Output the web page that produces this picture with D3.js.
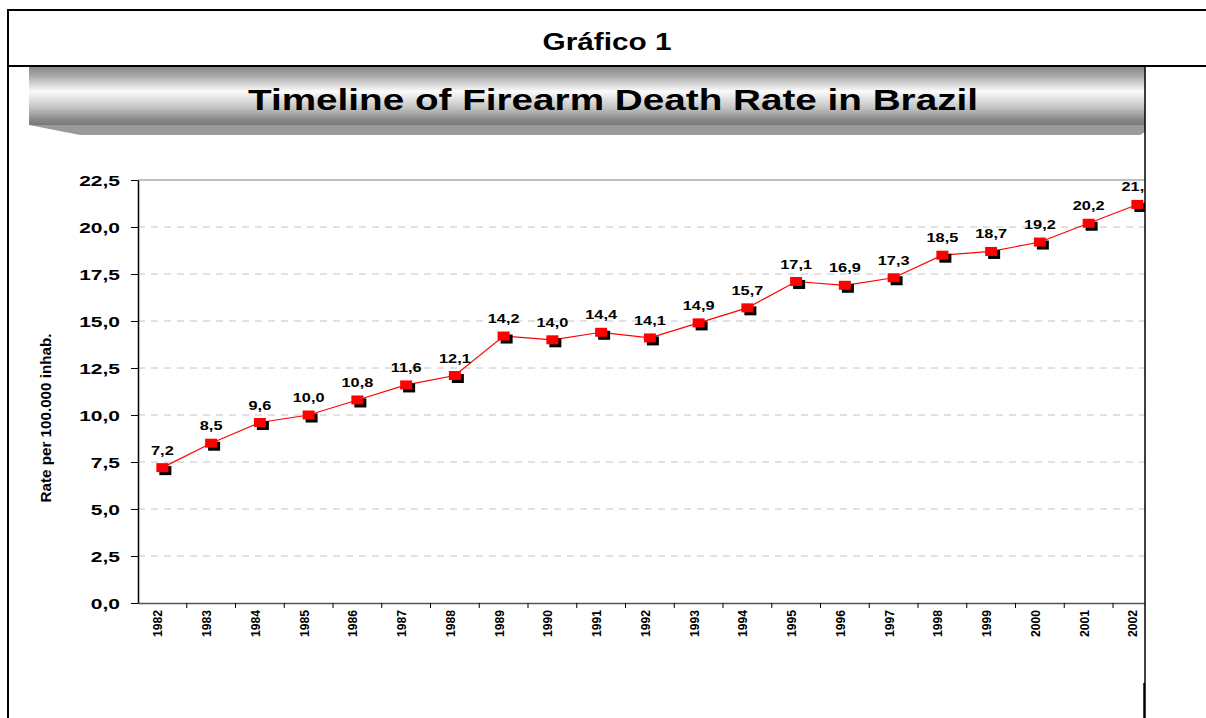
<!DOCTYPE html>
<html>
<head>
<meta charset="utf-8">
<script src="https://cdn.jsdelivr.net/npm/d3@7"></script>
<style>
  body { margin: 0; background: #fff; }
  svg { display: block; font-family: "Liberation Sans", Arial, sans-serif; }
</style>
</head>
<body>
<div id="chart"></div>
<script>
// data
var years = ["1982","1983","1984","1985","1986","1987","1988","1989","1990","1991","1992",
             "1993","1994","1995","1996","1997","1998","1999","2000","2001","2002"];
var rates = [7.2, 8.5, 9.6, 10.0, 10.8, 11.6, 12.1, 14.2, 14.0, 14.4, 14.1,
             14.9, 15.7, 17.1, 16.9, 17.3, 18.5, 18.7, 19.2, 20.2, 21.2];
var yTicks = [0, 2.5, 5, 7.5, 10, 12.5, 15, 17.5, 20, 22.5];

var W = 1206, H = 718;
var fmt = function(v) { return d3.format(".1f")(v).replace(".", ","); };

var svg = d3.select("#chart").append("svg")
    .attr("width", W)
    .attr("height", H);

// frame lines
svg.append("line").attr("x1", 8).attr("x2", W).attr("y1", 10).attr("y2", 10)
    .attr("stroke", "#000").attr("stroke-width", 2);
svg.append("line").attr("x1", 8).attr("x2", W).attr("y1", 66).attr("y2", 66)
    .attr("stroke", "#000").attr("stroke-width", 2);
svg.append("line").attr("x1", 8).attr("x2", 8).attr("y1", 9).attr("y2", H)
    .attr("stroke", "#000").attr("stroke-width", 2);

svg.append("text")
    .attr("x", 607).attr("y", 50)
    .attr("text-anchor", "middle")
    .attr("textLength", 129)
    .attr("lengthAdjust", "spacingAndGlyphs")
    .style("font-size", "24px").style("font-weight", "bold")
    .text("Gráfico 1");

// title banner
var defs = svg.append("defs");
var grad = defs.append("linearGradient").attr("id", "banner")
    .attr("x1", 0).attr("x2", 0).attr("y1", 0).attr("y2", 1);
[[0, "#888"], [0.15, "#a8a8a8"], [0.42, "#fbfbfb"], [0.7, "#c4c4c4"], [0.9, "#8a8a8a"], [1, "#787878"]]
  .forEach(function(s) { grad.append("stop").attr("offset", s[0]).attr("stop-color", s[1]); });

svg.append("polygon")
    .attr("points", "29,125 1145,125 1145,132 1140,135 80,135")
    .attr("fill", "#9a9a9a");
svg.append("rect")
    .attr("x", 29).attr("y", 67).attr("width", 1116).attr("height", 58)
    .attr("fill", "url(#banner)");
svg.append("text")
    .attr("x", 613).attr("y", 110)
    .attr("text-anchor", "middle")
    .attr("textLength", 730)
    .attr("lengthAdjust", "spacingAndGlyphs")
    .style("font-size", "29px").style("font-weight", "bold")
    .text("Timeline of Firearm Death Rate in Brazil");

// plot
var plotLeft = 138, plotTop = 180, plotBottom = 603, clipX = 1145;

var x = d3.scaleBand()
    .domain(years)
    .range([plotLeft, plotLeft + 21 * 48.75]);

var y = d3.scaleLinear()
    .domain([0, 22.5])
    .range([plotBottom, plotTop]);

defs.append("clipPath").attr("id", "plotclip")
  .append("rect").attr("x", 0).attr("y", 0).attr("width", clipX).attr("height", H);

var plot = svg.append("g").attr("clip-path", "url(#plotclip)");

// gridlines
plot.selectAll(".grid")
    .data(yTicks.filter(function(d) { return d > 0 && d < 22.5; }))
    .enter().append("line")
      .attr("x1", plotLeft).attr("x2", clipX)
      .attr("y1", function(d) { return y(d); })
      .attr("y2", function(d) { return y(d); })
      .attr("stroke", "#c4c4c4")
      .attr("stroke-dasharray", "7,6");
plot.append("line")
    .attr("x1", plotLeft).attr("x2", clipX)
    .attr("y1", y(22.5)).attr("y2", y(22.5))
    .attr("stroke", "#aaa").attr("stroke-width", 1.5);

// y axis
var yAxis = svg.append("g")
    .attr("transform", "translate(" + plotLeft + ",0)")
    .call(d3.axisLeft(y).tickValues(yTicks).tickSize(7).tickSizeOuter(0).tickFormat(fmt));
yAxis.select(".domain").attr("stroke", "#000").attr("stroke-width", 1.5);
yAxis.selectAll("text").remove();
yAxis.selectAll(".tick")
  .append("text")
    .attr("fill", "#000")
    .attr("text-anchor", "end")
    .attr("transform", "translate(-18,5) scale(1.5,1)")
    .style("font-size", "14px").style("font-weight", "bold")
    .text(fmt);

// x axis
var xAxis = plot.append("g")
    .attr("transform", "translate(0," + plotBottom + ")")
    .call(d3.axisBottom(x).tickSize(0).tickSizeOuter(0));
xAxis.select(".domain").attr("stroke", "#555").attr("stroke-width", 1.5);
xAxis.selectAll(".tick line").remove();
xAxis.selectAll(".tick text").remove();
xAxis.selectAll(".bound")
    .data(years.slice(1))
    .enter().append("line")
      .attr("x1", function(d) { return x(d); })
      .attr("x2", function(d) { return x(d); })
      .attr("y1", 0).attr("y2", 5)
      .attr("stroke", "#000");
xAxis.selectAll(".tick")
  .append("text")
    .attr("fill", "#000")
    .attr("text-anchor", "end")
    .attr("transform", "translate(0,7) rotate(-90)")
    .attr("textLength", 27)
    .attr("lengthAdjust", "spacingAndGlyphs")
    .style("font-size", "12.5px").style("font-weight", "bold")
    .text(function(d) { return d; });

// y axis title
svg.append("text")
    .attr("transform", "translate(51,418) rotate(-90)")
    .attr("text-anchor", "middle")
    .attr("textLength", 169)
    .attr("lengthAdjust", "spacingAndGlyphs")
    .style("font-size", "15px").style("font-weight", "bold")
    .text("Rate per 100.000 inhab.");

// series
var cx = function(d, i) { return x(years[i]) + x.bandwidth() / 2; };
var line = d3.line()
    .x(cx)
    .y(function(d) { return y(d); });

plot.append("path")
    .datum(rates)
    .attr("fill", "none")
    .attr("stroke", "#ff0000")
    .attr("stroke-width", 1.2)
    .attr("d", line);

plot.selectAll(".shadow")
    .data(rates)
    .enter().append("rect")
      .attr("x", function(d, i) { return cx(d, i) - 6 + 3; })
      .attr("y", function(d) { return y(d) - 4.5 + 3; })
      .attr("width", 12).attr("height", 9)
      .attr("fill", "#000");
plot.selectAll(".marker")
    .data(rates)
    .enter().append("rect")
      .attr("x", function(d, i) { return cx(d, i) - 6; })
      .attr("y", function(d) { return y(d) - 4.5; })
      .attr("width", 12).attr("height", 9)
      .attr("fill", "#ff0000");

plot.selectAll(".label")
    .data(rates)
    .enter().append("text")
      .attr("text-anchor", "middle")
      .attr("transform", function(d, i) {
        return "translate(" + cx(d, i) + "," + (y(d) - 13) + ") scale(1.36,1)";
      })
      .style("font-size", "12px").style("font-weight", "bold")
      .text(fmt);

// right edge of the chart area
svg.append("line").attr("x1", clipX).attr("x2", clipX).attr("y1", 66).attr("y2", 683)
    .attr("stroke", "#000").attr("stroke-width", 1.5);
svg.append("line").attr("x1", clipX - 0.5).attr("x2", clipX - 0.5).attr("y1", 683).attr("y2", H)
    .attr("stroke", "#000").attr("stroke-width", 2.5);
</script>
</body>
</html>
